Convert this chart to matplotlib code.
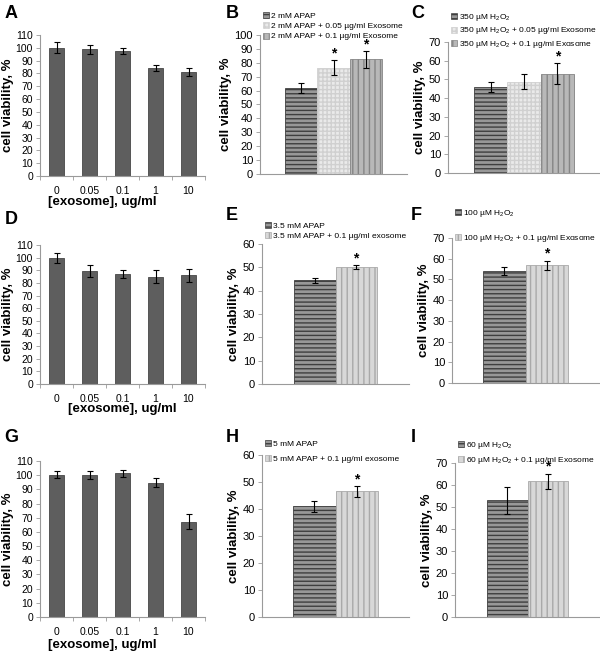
import numpy as np
import matplotlib
matplotlib.use('Agg')
import matplotlib.pyplot as plt
from matplotlib.patches import Patch

plt.rcParams['font.family'] = ['Liberation Sans', 'DejaVu Sans']
plt.rcParams['mathtext.default'] = 'regular'
plt.rcParams['hatch.linewidth'] = 1.0

# dose-response panels (A, D, G)
doses = ['0', '0.05', '0.1', '1', '10']
A_vals = [100, 99, 97.5, 84.5, 81]
A_err = [4.2, 3.5, 2, 2.4, 3.3]
D_vals = [100, 89.5, 86.8, 85, 86.2]
D_err = [4, 4.7, 3.3, 5.4, 5.2]
G_vals = [100.4, 100.3, 101.2, 94.8, 67.3]
G_err = [2.5, 3, 2.3, 3.3, 5.6]

# protection panels
B_labels = ['2 mM APAP', '2 mM APAP + 0.05 µg/ml Exosome', '2 mM APAP + 0.1 µg/ml Exosome']
B_vals = [62, 76.5, 82.5]
B_err = [3.5, 5.3, 6]
B_star = [False, True, True]

C_labels = ['350 µM H$_2$O$_2$', '350 µM H$_2$O$_2$ + 0.05 µg/ml Exosome',
            '350 µM H$_2$O$_2$ + 0.1 µg/ml Exosome']
C_vals = [46, 48.8, 53]
C_err = [2.6, 4, 5.6]
C_star = [False, False, True]

E_labels = ['3.5 mM APAP', '3.5 mM APAP + 0.1 µg/ml exosome']
E_vals = [44.4, 50]
E_err = [1, 0.8]
E_star = [False, True]

F_labels = ['100 µM H$_2$O$_2$', '100 µM H$_2$O$_2$ + 0.1 µg/ml Exosome']
F_vals = [54, 56.8]
F_err = [1.8, 2.3]
F_star = [False, True]

H_labels = ['5 mM APAP', '5 mM APAP + 0.1 µg/ml exosome']
H_vals = [41, 46.5]
H_err = [2, 2]
H_star = [False, True]

I_labels = ['60 µM H$_2$O$_2$', '60 µM H$_2$O$_2$ + 0.1 µg/ml Exosome']
I_vals = [53, 61.7]
I_err = [6.3, 3.4]
I_star = [False, True]

W, H = 600, 651
fig = plt.figure(figsize=(6, 6.51), dpi=100)


def rect(l, t, r, b):
    return [l / W, 1 - b / H, (r - l) / W, (b - t) / H]


def style_axes(ax, ymax, tick_fs):
    for s in ['top', 'right']:
        ax.spines[s].set_visible(False)
    ax.spines['left'].set_color('#9a9a9a')
    ax.spines['bottom'].set_color('#9a9a9a')
    ax.spines['left'].set_linewidth(0.8)
    ax.spines['bottom'].set_linewidth(0.8)
    ax.set_ylim(0, ymax)
    ax.set_yticks(np.arange(0, ymax + 1, 10))
    ax.tick_params(axis='y', length=3, width=0.6, color='#9a9a9a', labelsize=tick_fs, pad=2)
    ax.set_ylabel('cell viability, %', fontsize=9.5, fontweight='bold', labelpad=2)


def dose_panel(box, vals, err, xlab_x):
    ax = fig.add_axes(rect(*box))
    x = np.arange(len(doses))
    ax.bar(x, vals, width=0.45, color='#5e5e5e', edgecolor='#474747', linewidth=0.6)
    ax.errorbar(x, vals, yerr=err, fmt='none', ecolor='black', elinewidth=0.8, capsize=2, capthick=0.8)
    ax.set_xlim(-0.5, len(doses) - 0.5)
    style_axes(ax, 110, 7.5)
    ax.set_xticks(x)
    ax.set_xticklabels(doses)
    ax.set_xticks(np.arange(-0.5, len(doses), 1), minor=True)
    ax.tick_params(axis='x', which='major', length=0, labelsize=7.5, pad=7)
    ax.tick_params(axis='x', which='minor', length=3, width=0.6, color='#9a9a9a')
    ax.set_xlabel('[exosome], ug/ml', fontsize=9.5, fontweight='bold', labelpad=3)
    ax.xaxis.set_label_coords(xlab_x, -0.14)
    ax.yaxis.set_label_coords(-0.155, 0.5)
    return ax


# bar styles: (face, hatch colour, hatch)
hstripe = ('#989898', '#3f3f3f', '----')
dotted = ('#eaeaea', '#d0d0d0', '++++')
vstripe_mid = ('#b8b8b8', '#858585', '|||')
vstripe_light = ('#d8d8d8', '#a9a9a9', '|||')


def group_panel(box, vals, err, stars, labels, styles, ymax, half, leg_xy, leg_sp):
    ax = fig.add_axes(rect(*box))
    n = len(vals)
    x = np.arange(n) - (n - 1) / 2
    handles = []
    for i in range(n):
        fc, hc, hp = styles[i]
        ax.bar(x[i], vals[i], width=1.0, color=fc, edgecolor=hc, hatch=hp, linewidth=0.6)
        handles.append(Patch(facecolor=fc, edgecolor=hc, hatch=hp, linewidth=0.5, label=labels[i]))
    ax.errorbar(x, vals, yerr=err, fmt='none', ecolor='black', elinewidth=0.8, capsize=2.5, capthick=0.8)
    for i in range(n):
        if stars[i]:
            ax.annotate('*', (x[i], vals[i] + err[i]), xytext=(0, 5), textcoords='offset points',
                        ha='center', va='center', fontsize=10, fontweight='bold')
    ax.set_xlim(-half, half)
    ax.set_xticks([])
    style_axes(ax, ymax, 8)
    ax.legend(handles=handles, loc='upper left', bbox_to_anchor=(leg_xy[0] / W, 1 - leg_xy[1] / H),
              bbox_transform=fig.transFigure, frameon=False, fontsize=6, handlelength=0.7,
              handleheight=0.7, handletextpad=0.25, borderpad=0, borderaxespad=0,
              labelspacing=leg_sp)
    return ax


dose_panel((40, 35, 205, 176), A_vals, A_err, 0.376)
dose_panel((40, 245, 205, 384), D_vals, D_err, 0.5)
dose_panel((40, 461, 205, 617), G_vals, G_err, 0.376)

group_panel((260, 35, 407, 174), B_vals, B_err, B_star, B_labels,
            [hstripe, dotted, vstripe_mid], 100, 2.27, (263, 12), 0.3)
group_panel((448, 42, 600, 173), C_vals, C_err, C_star, C_labels,
            [hstripe, dotted, vstripe_mid], 70, 2.28, (451, 12), 0.3)
group_panel((262, 244, 409, 384), E_vals, E_err, E_star, E_labels,
            [hstripe, vstripe_light], 60, 1.78, (265, 222), 0.3)
group_panel((452, 238, 599, 383), F_vals, F_err, F_star, F_labels,
            [hstripe, vstripe_light], 70, 1.73, (455, 208), 1.7)
group_panel((262, 455, 409, 617), H_vals, H_err, H_star, H_labels,
            [hstripe, vstripe_light], 60, 1.72, (265, 440), 0.9)
group_panel((455, 463, 600, 617), I_vals, I_err, I_star, I_labels,
            [hstripe, vstripe_light], 70, 1.78, (458, 440), 0.5)

# panel letters
letters = ['A', 'B', 'C', 'D', 'E', 'F', 'G', 'H', 'I']
letter_xy = [(5, 13), (226, 13), (411, 13), (5, 219), (226, 216), (411, 215),
             (4, 438), (226, 437), (411, 438)]
for s, (lx, ly) in zip(letters, letter_xy):
    fig.text(lx / W, 1 - ly / H, s, fontsize=13, fontweight='bold', va='center', ha='left')

fig.savefig('out.png', dpi=100)
